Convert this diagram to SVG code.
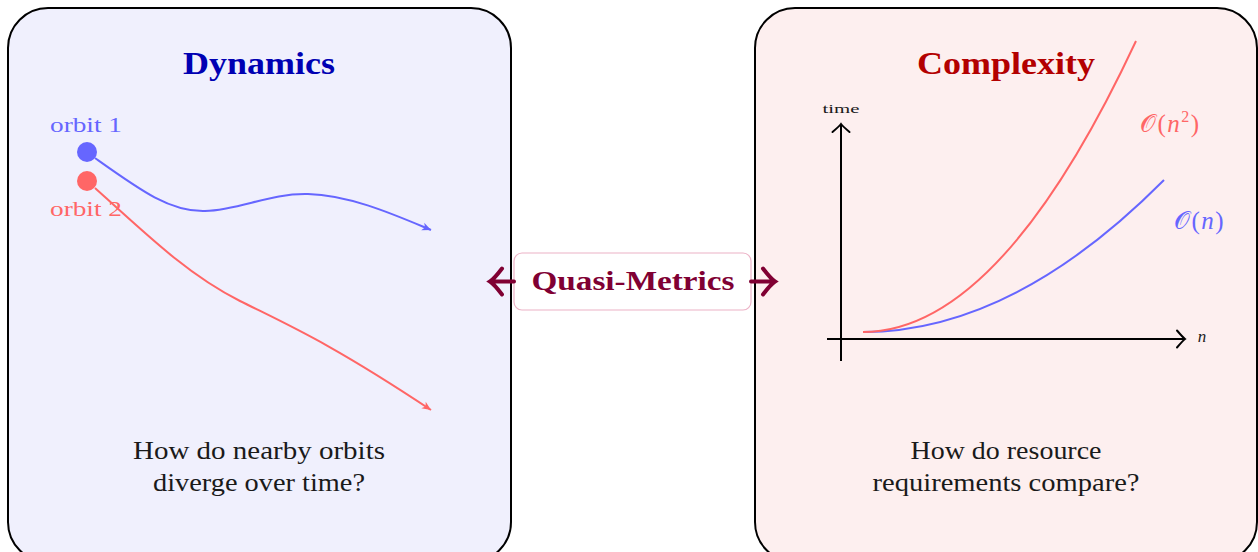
<svg xmlns="http://www.w3.org/2000/svg" width="1258" height="552" viewBox="0 0 1258 552">
<style>
.serif{font-family:"Liberation Serif","DejaVu Serif",serif}
.panel{stroke:#000;stroke-width:2}
.title{font-size:31px;font-weight:bold;text-anchor:middle}
.body{font-size:25px;fill:#1a1a1a;text-anchor:middle}
.lbl{font-size:22px;text-anchor:middle}
.blue{fill:#6666ff}
.red{fill:#ff6666}
.orbit{fill:none;stroke-width:2}
.axis{fill:none;stroke:#000;stroke-width:2}
.dbl{fill:none;stroke:#800033;stroke-width:4;stroke-linecap:round}
</style>
<defs>
<marker id="axhead" markerUnits="userSpaceOnUse" viewBox="-10 -10 12 20" refX="0" refY="0" markerWidth="12" markerHeight="20" orient="auto" overflow="visible">
<path d="M-8,-8.5 Q-2,-1.5 0,0 Q-2,1.5 -8,8.5" fill="none" stroke="#000" stroke-width="2" stroke-linecap="round"/>
</marker>
<marker id="bhead" markerUnits="userSpaceOnUse" viewBox="-10 -5 11 10" refX="0" refY="0" markerWidth="11" markerHeight="10" orient="auto" overflow="visible">
<path d="M0,0 L-9,-4 L-6.5,0 L-9,4 Z" fill="#6666ff"/>
</marker>
<marker id="rhead" markerUnits="userSpaceOnUse" viewBox="-10 -5 11 10" refX="0" refY="0" markerWidth="11" markerHeight="10" orient="auto" overflow="visible">
<path d="M0,0 L-9,-4 L-6.5,0 L-9,4 Z" fill="#ff6666"/>
</marker>
</defs>

<g id="dynamics">
<rect class="panel" x="8" y="8" width="503" height="554" rx="40" fill="#f0f0fd"/>
<text class="serif title" x="259" y="74" fill="#0000b3" textLength="152" lengthAdjust="spacingAndGlyphs">Dynamics</text>
<text class="serif lbl blue" x="86" y="132" textLength="72" lengthAdjust="spacingAndGlyphs">orbit 1</text>
<circle cx="87" cy="152" r="10" fill="#6666ff"/>
<circle cx="87" cy="181" r="10" fill="#ff6666"/>
<path class="orbit" stroke="#6666ff" marker-end="url(#bhead)" d="M95,158 C140,190 170,212 205,211 C240,210 270,193 308,194 C350,195 395,215 431,230"/>
<path class="orbit" stroke="#ff6666" marker-end="url(#rhead)" d="M95,188 C150,238 190,276 240,301 C290,326 330,343 431,410"/>
<text class="serif lbl red" x="86" y="216" textLength="72" lengthAdjust="spacingAndGlyphs">orbit 2</text>
<text class="serif body" x="259" y="459" textLength="252" lengthAdjust="spacingAndGlyphs">How do nearby orbits</text>
<text class="serif body" x="259" y="491" textLength="212" lengthAdjust="spacingAndGlyphs">diverge over time?</text>
</g>

<g id="complexity">
<rect class="panel" x="755" y="8" width="502" height="554" rx="40" fill="#fdefef"/>
<text class="serif title" x="1006" y="74" fill="#b30000" textLength="178" lengthAdjust="spacingAndGlyphs">Complexity</text>
<line class="axis" x1="841" y1="361" x2="841" y2="124" marker-end="url(#axhead)"/>
<line class="axis" x1="827" y1="339" x2="1185" y2="339" marker-end="url(#axhead)"/>
<text class="serif" x="841" y="113" font-size="13" text-anchor="middle" fill="#1a1a1a" textLength="37" lengthAdjust="spacingAndGlyphs">time</text>
<text class="serif" x="1202" y="342" font-size="17" font-style="italic" text-anchor="middle" fill="#1a1a1a">n</text>
<path class="orbit" stroke="#6666ff" d="M863,332 Q1013,332 1164,180"/>
<path class="orbit" stroke="#ff6666" d="M863,332 Q1000,332 1136,41"/>
<text class="serif red" x="1140" y="132" font-size="25" letter-spacing="1.5">𝒪(<tspan font-style="italic">n</tspan><tspan font-size="16" dy="-10">2</tspan><tspan dy="10">)</tspan></text>
<text class="serif blue" x="1174" y="229" font-size="25" letter-spacing="1.5">𝒪(<tspan font-style="italic">n</tspan>)</text>
<text class="serif body" x="1006" y="459" textLength="191" lengthAdjust="spacingAndGlyphs">How do resource</text>
<text class="serif body" x="1006" y="491" textLength="267" lengthAdjust="spacingAndGlyphs">requirements compare?</text>
</g>

<g id="quasi-metrics">
<rect x="514" y="253" width="237" height="57" rx="8" fill="#ffffff" stroke="#ecb2c6" stroke-width="1.2"/>
<text class="serif" x="633" y="290" font-size="28" font-weight="bold" fill="#800033" text-anchor="middle" textLength="203" lengthAdjust="spacingAndGlyphs">Quasi-Metrics</text>
</g>

<g id="connectors">
<path class="dbl" d="M514,281.5 L491,281.5 M502,268.5 Q494,279 490,281.5 Q494,284 502,294.5"/>
<path class="dbl" d="M751,281.5 L774,281.5 M763,268.5 Q771,279 775,281.5 Q771,284 763,294.5"/>
</g>
</svg>
